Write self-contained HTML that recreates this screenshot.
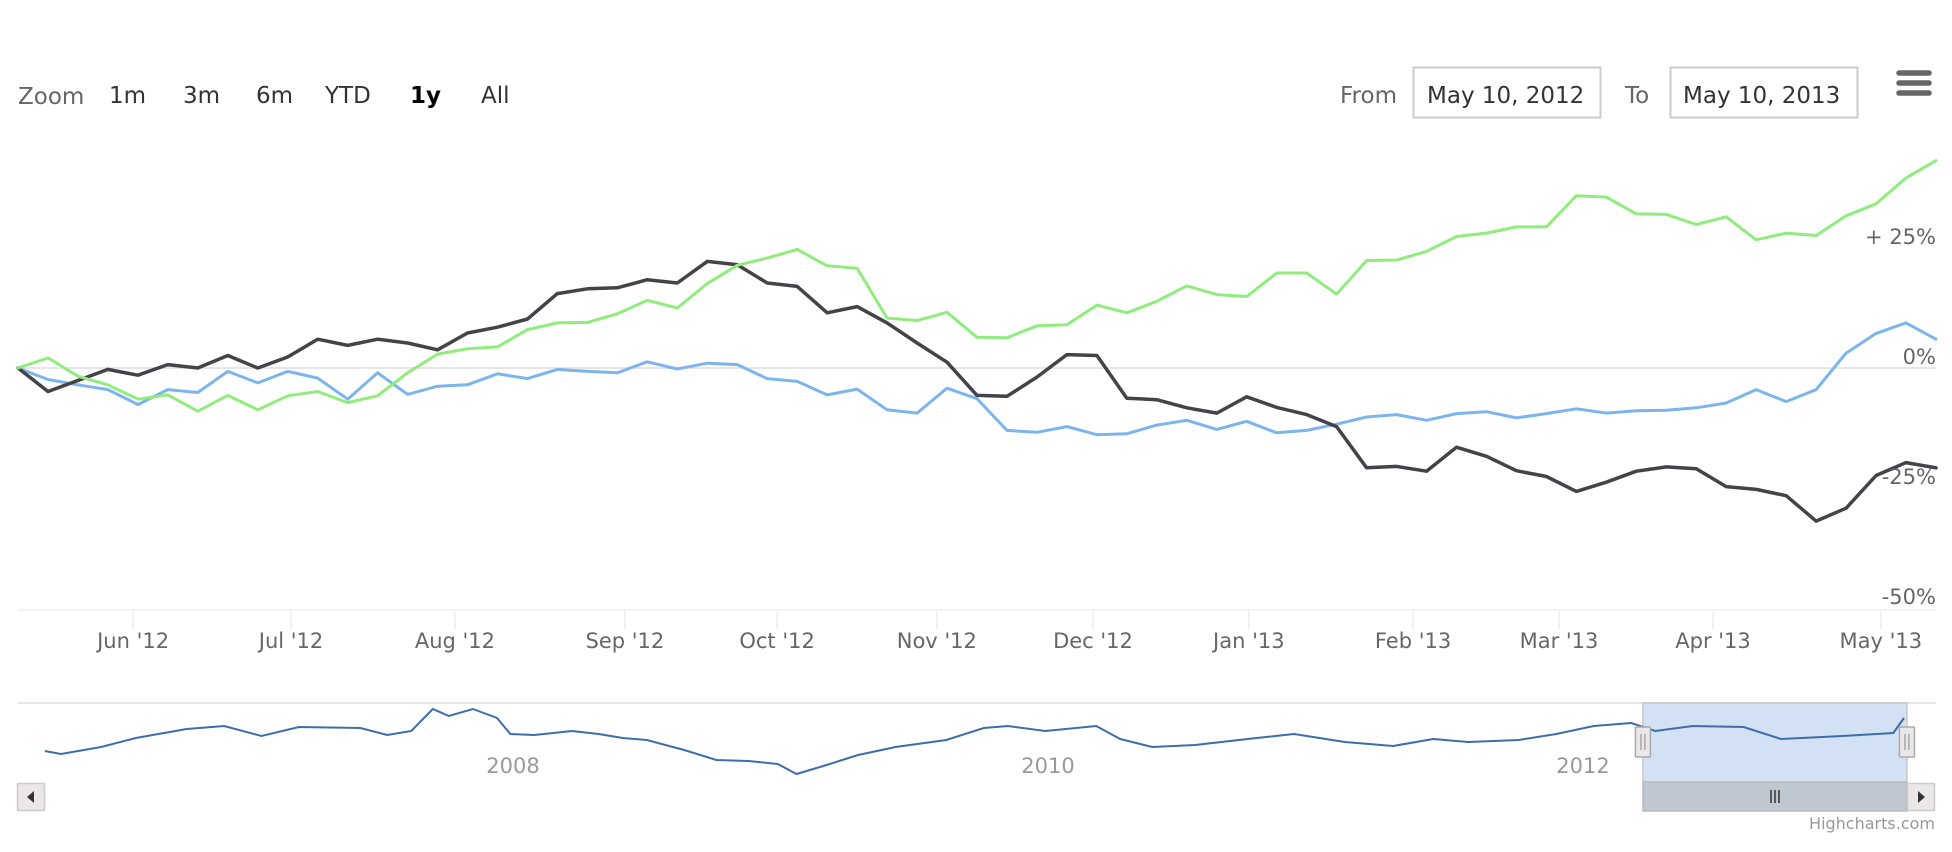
<!DOCTYPE html>
<html><head><meta charset="utf-8"><style>
html,body{margin:0;padding:0;background:#fff;}
svg{display:block;font-family:"DejaVu Sans","Liberation Sans",sans-serif;}
</style></head><body>
<svg id="chart" width="1952" height="852" viewBox="0 0 1952 852" xmlns="http://www.w3.org/2000/svg">
  <rect x="0" y="0" width="1952" height="852" fill="#fff"/>
  <g>
    <text x="18" y="104" font-size="23" fill="#666">Zoom</text>
    <text x="109" y="103" font-size="23" fill="#333">1m</text>
    <text x="183" y="103" font-size="23" fill="#333">3m</text>
    <text x="256" y="103" font-size="23" fill="#333">6m</text>
    <text x="325" y="103" font-size="23" fill="#333">YTD</text>
    <text x="410" y="103" font-size="23" fill="#000" font-weight="bold">1y</text>
    <text x="481" y="103" font-size="23" fill="#333">All</text>
    <text x="1340" y="103" font-size="23" fill="#666">From</text>
    <rect x="1413.5" y="67.5" width="187" height="50" fill="#fff" stroke="#ccc" stroke-width="2"/>
    <text x="1427" y="103" font-size="23" fill="#333">May 10, 2012</text>
    <text x="1625" y="103" font-size="23" fill="#666">To</text>
    <rect x="1670.5" y="67.5" width="187" height="50" fill="#fff" stroke="#ccc" stroke-width="2"/>
    <text x="1683" y="103" font-size="23" fill="#333">May 10, 2013</text>
  </g>
  <g stroke="#666" stroke-width="5.5" stroke-linecap="round">
    <line x1="1899" y1="73" x2="1929" y2="73"/>
    <line x1="1899" y1="83" x2="1929" y2="83"/>
    <line x1="1899" y1="93" x2="1929" y2="93"/>
  </g>
  <g id="grid"></g>
  <g id="series"></g>
  <g id="yaxis"></g>
  <g id="xaxis"></g>
  <g id="navigator"></g>
  <g>
    <rect x="17.5" y="783.5" width="27" height="27" fill="#ebe7e8" stroke="#ccc" stroke-width="1.5"/>
    <path d="M27 797 L34 791 L34 803 Z" fill="#333"/>
    <rect x="1643" y="782" width="264" height="29" fill="#bfc7d0" stroke="#bbb" stroke-width="1.5"/>
    <g stroke="#333" stroke-width="1.5">
      <line x1="1771" y1="790" x2="1771" y2="803"/><line x1="1775" y1="790" x2="1775" y2="803"/><line x1="1779" y1="790" x2="1779" y2="803"/>
    </g>
    <rect x="1907.5" y="783.5" width="27" height="27" fill="#ebe7e8" stroke="#ccc" stroke-width="1.5"/>
    <path d="M1925 797 L1918 791 L1918 803 Z" fill="#333"/>
  </g>
  <text x="1935" y="829" font-size="16" fill="#999" text-anchor="end">Highcharts.com</text>
</svg>
<script>
// main chart data (percent change), sampled on ordinal trading-day index
const blueValues = [0,-2.4,-3.5,-4.5,-7.6,-4.5,-5.1,-0.7,-3.1,-0.7,-2.1,-6.5,-1.0,-5.5,-3.8,-3.5,-1.2,-2.2,-0.3,-0.7,-1.0,1.3,-0.2,1.0,0.7,-2.2,-2.8,-5.6,-4.4,-8.7,-9.4,-4.2,-6.4,-13.0,-13.4,-12.2,-13.9,-13.7,-11.9,-10.9,-12.8,-11.1,-13.5,-13.0,-11.7,-10.2,-9.7,-10.9,-9.5,-9.1,-10.4,-9.5,-8.5,-9.4,-8.9,-8.8,-8.3,-7.3,-4.5,-7.0,-4.5,3.1,7.2,9.4,6.0];
const blackValues = [0,-4.9,-2.6,-0.3,-1.5,0.7,0,2.6,0,2.3,6.0,4.7,6.0,5.2,3.8,7.3,8.5,10.2,15.5,16.5,16.7,18.4,17.7,22.2,21.5,17.7,17.0,11.5,12.8,9.4,5.2,1.2,-5.7,-5.9,-1.9,2.8,2.6,-6.3,-6.6,-8.3,-9.4,-6.0,-8.2,-9.7,-12.2,-20.8,-20.5,-21.5,-16.5,-18.4,-21.4,-22.6,-25.7,-23.8,-21.5,-20.6,-21.0,-24.7,-25.3,-26.6,-31.9,-29.2,-22.4,-19.7,-20.8];
const greenValues = [0,2.1,-1.7,-3.5,-6.5,-5.6,-9.0,-5.7,-8.7,-5.8,-4.9,-7.2,-5.8,-1.0,2.9,4.0,4.4,8.0,9.4,9.5,11.3,14.1,12.5,17.6,21.4,22.9,24.7,21.3,20.8,10.4,9.9,11.6,6.4,6.3,8.8,9.0,13.1,11.5,13.9,17.1,15.3,14.9,19.8,19.8,15.4,22.4,22.5,24.3,27.4,28.1,29.4,29.4,35.9,35.6,32.1,32.0,29.9,31.5,26.7,28.1,27.6,31.7,34.2,39.6,43.2];
const monthLabels = ["Jun '12","Jul '12","Aug '12","Sep '12","Oct '12","Nov '12","Dec '12","Jan '13","Feb '13","Mar '13","Apr '13","May '13"];
const monthTickIndex = [3.84,9.11,14.58,20.25,25.33,30.66,35.87,41.07,46.55,51.42,56.56,62.16];
const yTickValues = [25,0,-25,-50];
const yTickLabels = ["+ 25%","0%","-25%","-50%"];
// navigator data (full history)
const navYears = [2006.25,2006.31,2006.46,2006.59,2006.78,2006.92,2007.06,2007.20,2007.43,2007.53,2007.62,2007.70,2007.76,2007.85,2007.94,2007.99,2008.08,2008.22,2008.32,2008.41,2008.50,2008.64,2008.76,2008.88,2008.99,2009.06,2009.16,2009.29,2009.43,2009.62,2009.76,2009.85,2009.99,2010.18,2010.27,2010.39,2010.55,2010.78,2010.92,2011.11,2011.29,2011.44,2011.57,2011.76,2011.90,2012.04,2012.18,2012.27,2012.41,2012.60,2012.74,2012.97,2013.16,2013.20];
const navValues = [31,28,35,44,53,56,46,55,54,47,51,73,66,73,64,48,47,51,48,44,42,32,22,21,18,8,16,27,35,42,54,56,51,56,43,35,37,44,48,40,36,43,40,42,48,56,59,51,56,55,43,46,49,64];
const navYearTicks = [2008,2010,2012];
const navRange = [2012.224,2013.211];

const NS = "http://www.w3.org/2000/svg";
function mk(tag, attrs, parent){const e=document.createElementNS(NS,tag);for(const k in attrs)e.setAttribute(k,attrs[k]);parent.appendChild(e);return e;}
const PL=18, PR=1936, PT=128, PB=610;
const N = blackValues.length;
function xPos(i){return PL + i*(PR-PL)/(N-1);}
function yPos(v){return 368 - v*4.8;}
const NAVX0=2008, NAVPX0=513, NAVPPY=267.5;
function navX(yr){return NAVPX0 + (yr-NAVX0)*NAVPPY;}
function navY(v){return 782 - v;}

const grid=document.getElementById('grid');
const zl=mk('line',{x1:PL,x2:PR,y1:yPos(0),y2:yPos(0),stroke:'#e6e6e6','stroke-width':2},grid);


const bl=mk('line',{x1:PL,x2:PR,y1:PB,y2:PB,stroke:'#eeeeee','stroke-width':1.5},grid);



const yax=document.getElementById('yaxis');
yTickValues.forEach((v,i)=>{
  const t=mk('text',{x:PR,y:yPos(v)-4,'font-size':21,fill:'#666','text-anchor':'end'},yax);
  t.textContent=yTickLabels[i];
  
  
});
const xax=document.getElementById('xaxis');
monthTickIndex.forEach((ix,i)=>{
  const x=xPos(ix);
  const tl=mk('line',{x1:x,x2:x,y1:PB,y2:PB+20,stroke:'#eeeeee','stroke-width':1.5},xax);
  
  
  const t=mk('text',{x:x,y:648,'font-size':21,fill:'#666','text-anchor':'middle'},xax);
  t.textContent=monthLabels[i];
  
  
});

const ser=document.getElementById('series');
function drawLine(vals,color,w,name){
  const d=vals.map((v,i)=>(i?'L':'M')+xPos(i).toFixed(1)+' '+yPos(v).toFixed(1)).join(' ');
  const p=mk('path',{d:d,fill:'none',stroke:color,'stroke-width':w,'stroke-linejoin':'round','stroke-linecap':'round'},ser);
  
  
}
drawLine(blueValues,'#7cb5ec',3,'series-msft-line');
drawLine(blackValues,'#434348',3.5,'series-aapl-line');
drawLine(greenValues,'#90ed7d',3,'series-goog-line');

const nav=document.getElementById('navigator');
const nt=mk('line',{x1:PL,x2:PR,y1:703,y2:703,stroke:'#e6e6e6','stroke-width':2},nav);


const mx0=navX(navRange[0]), mx1=navX(navRange[1]);
const mask=mk('rect',{x:mx0,y:703,width:mx1-mx0,height:79,fill:'#d3e1f4',stroke:'#c8c8c8','stroke-width':1.5},nav);


navYearTicks.forEach(yr=>{
  const t=mk('text',{x:navX(yr),y:773,'font-size':21,fill:'#999','text-anchor':'middle'},nav);
  t.textContent=String(yr);
  
  
});
const nd=navValues.map((v,i)=>(i?'L':'M')+navX(navYears[i]).toFixed(1)+' '+navY(v).toFixed(1)).join(' ');
const np=mk('path',{d:nd,fill:'none',stroke:'#3d6eab','stroke-width':2},nav);


[mx0,mx1].forEach((hx,i)=>{
  const h=mk('rect',{x:hx-7.5,y:727,width:15,height:30,fill:'#ebe7e8',stroke:'#aaa','stroke-width':1.5,rx:1},nav);
  
  
  mk('line',{x1:hx-2,x2:hx-2,y1:734,y2:750,stroke:'#999','stroke-width':1.2},nav);
  mk('line',{x1:hx+2,x2:hx+2,y1:734,y2:750,stroke:'#999','stroke-width':1.2},nav);
});
</script>
</body></html>
